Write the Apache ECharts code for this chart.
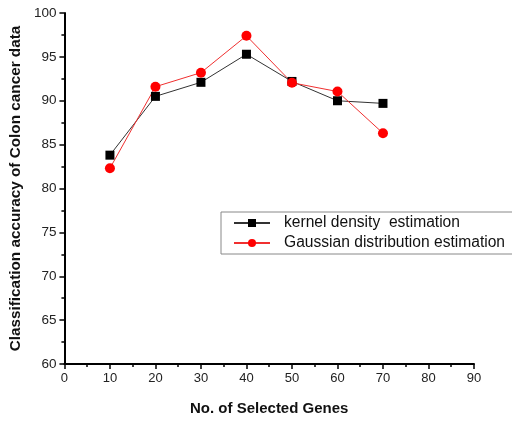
<!DOCTYPE html>
<html><head><meta charset="utf-8">
<script src="https://cdn.jsdelivr.net/npm/echarts@6/dist/echarts.min.js"></script>
<style>html,body{margin:0;padding:0;background:#fff}#c{width:512px;height:421px}</style>
</head><body><div id="c"></div>
<script>
const genes = [10, 20, 30, 40, 50, 60, 70];
const kernelAcc = [83.8, 90.5, 92.1, 95.3, 92.2, 90.0, 89.7];
const gaussAcc = [82.3, 91.6, 93.2, 97.4, 92.05, 91.05, 86.3];
const seriesNames = ['kernel density  estimation', 'Gaussian distribution estimation'];
const xTitle = 'No. of Selected Genes';
const yTitle = 'Classification accuracy of Colon cancer data';

const font = 'Arial, "Liberation Sans", sans-serif';
const chart = echarts.init(document.getElementById('c'), null, {renderer: 'canvas'});
const pair = (xs, ys) => xs.map((x, i) => [x, ys[i]]);
chart.setOption({
  animation: false,
  backgroundColor: '#fff',
  grid: {left: 61, top: 13, width: 413, height: 356, containLabel: false},
  legend: {
    orient: 'vertical', left: 221, top: 212,
    padding: [2, 10, 2, 12], itemGap: 2,
    itemWidth: 36, itemHeight: 10,
    borderColor: '#888', borderWidth: 1,
    textStyle: {fontFamily: font, fontSize: 15.6, color: '#111', padding: [0, 0, 0, 9], lineHeight: 18},
    data: seriesNames
  },
  xAxis: {
    type: 'value', min: 0, max: 90, interval: 10,
    name: xTitle, nameLocation: 'middle', nameGap: 37,
    nameTextStyle: {fontFamily: font, fontSize: 15, fontWeight: 'bold', color: '#111'},
    axisLine: {onZero: false, lineStyle: {color: '#000', width: 2}},
    axisTick: {show: true, inside: false, length: 5, lineStyle: {color: '#000', width: 1.5}},
    minorTick: {show: true, splitNumber: 2, length: 3, lineStyle: {color: '#000', width: 1.5}},
    axisLabel: {fontFamily: font, fontSize: 13, color: '#222', margin: 8},
    splitLine: {show: false}
  },
  yAxis: {
    type: 'value', min: 60, max: 100, interval: 5,
    name: yTitle, nameLocation: 'middle', nameGap: 35,
    nameTextStyle: {fontFamily: font, fontSize: 15.3, fontWeight: 'bold', color: '#111'},
    axisLine: {show: true, lineStyle: {color: '#000', width: 2}},
    axisTick: {show: true, inside: false, length: 5, lineStyle: {color: '#000', width: 1.5}},
    minorTick: {show: true, splitNumber: 2, length: 3, lineStyle: {color: '#000', width: 1.5}},
    axisLabel: {fontFamily: font, fontSize: 13.5, color: '#222', margin: 8},
    splitLine: {show: false}
  },
  series: [
    {
      name: seriesNames[0], type: 'line', data: pair(genes, kernelAcc),
      symbol: 'rect', symbolSize: 9,
      itemStyle: {color: '#000'},
      lineStyle: {color: '#333', width: 1}
    },
    {
      name: seriesNames[1], type: 'line', data: pair(genes, gaussAcc),
      symbol: 'circle', symbolSize: 10,
      itemStyle: {color: '#ff0000'},
      lineStyle: {color: '#f03030', width: 1}
    }
  ]
});
</script></body></html>
